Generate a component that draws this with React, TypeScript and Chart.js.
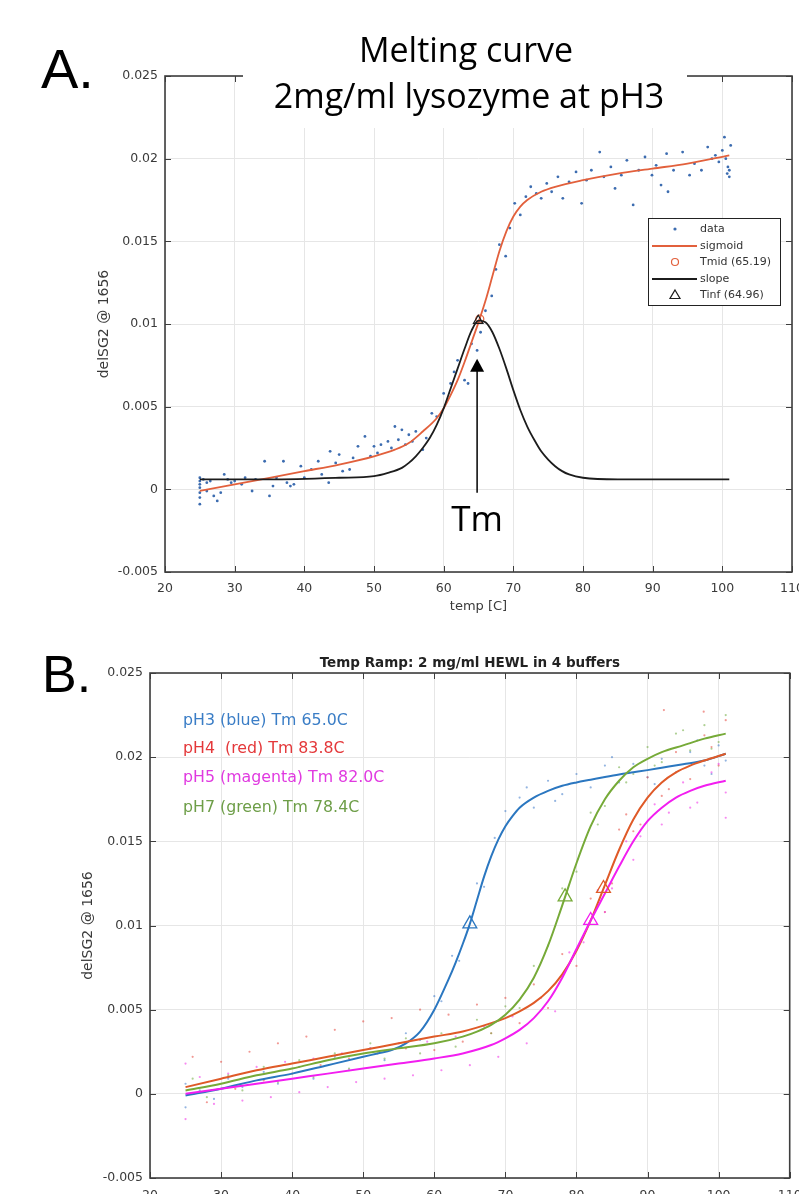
import React, { useEffect, useRef } from 'react';
import { Chart, registerables } from 'chart.js';

Chart.register(...registerables);

// ---------------- Panel A data ----------------
const aDataTemp = [
  25, 25, 25, 25, 25, 25, 25, 25.5, 26, 26, 26.5, 27, 27.5, 28, 28.5, 29, 29.5, 30, 31, 31.5,
  32.5, 33, 34.3, 35, 35.5, 36, 37, 37.5, 38, 38.5, 39.5, 40, 41, 42, 42.5, 43.5, 43.7, 44.5, 45, 45.5,
  46.5, 47, 47.7, 48.7, 49.5, 50, 50.5, 51, 52, 52.5, 53, 53.5, 54, 54.5, 55, 55.5, 56, 57, 57.5, 58.3,
  59, 60, 61, 61.5, 62, 63, 63.5, 64, 64.8, 65.3, 66, 66.9, 67.5, 68, 68.9, 69.5, 70.2, 71, 71.8, 72.5,
  73.3, 74, 74.8, 75.5, 76.4, 77.1, 78, 79, 79.8, 80.5, 81.2, 82.4, 83, 84, 84.6, 85.5, 86.3, 87.2, 88, 88.9,
  89.9, 90.5, 91.2, 92, 92.2, 93, 94.3, 95.3, 96, 97, 97.9, 98.5, 99, 99.5, 100, 100.3, 100.5, 100.8, 101, 101.2,
  101, 100.7,
];
const aDataSignal = [
  0.0007, 0.0005, 0.0003, 0.0001, -0.0002, -0.0005, -0.0009, 0.0006, 0.0004, -0.0001, 0.0005, -0.0004, -0.0007, -0.0002, 0.0009, 0.0006, 0.0004, 0.0005, 0.0003, 0.0007,
  -0.0001, 0.0006, 0.0017, -0.0004, 0.0002, 0.0007, 0.0017, 0.0004, 0.0002, 0.0003, 0.0014, 0.0007, 0.0012, 0.0017, 0.0009, 0.0004, 0.0023, 0.0016, 0.0021, 0.0011,
  0.0012, 0.0019, 0.0026, 0.0032, 0.0020, 0.0026, 0.0022, 0.0027, 0.0029, 0.0025, 0.0038, 0.0030, 0.0036, 0.0027, 0.0033, 0.0029, 0.0035, 0.0024, 0.0031, 0.0046,
  0.0044, 0.0058, 0.0064, 0.0071, 0.0078, 0.0066, 0.0064, 0.0088, 0.0084, 0.0095, 0.0108, 0.0117, 0.0133, 0.0148, 0.0141, 0.0158, 0.0173, 0.0166, 0.0177, 0.0183,
  0.0179, 0.0176, 0.0185, 0.0180, 0.0189, 0.0176, 0.0186, 0.0192, 0.0173, 0.0187, 0.0193, 0.0204, 0.0189, 0.0195, 0.0182, 0.0190, 0.0199, 0.0172, 0.0193, 0.0201,
  0.0190, 0.0196, 0.0184, 0.0203, 0.0180, 0.0193, 0.0204, 0.0190, 0.0197, 0.0193, 0.0207, 0.0200, 0.0202, 0.0198, 0.0205, 0.0213, 0.0200, 0.0195, 0.0189, 0.0208,
  0.0193, 0.0191,
];
const aSigmoidTemp = [25, 30, 35, 40, 45, 50, 53, 55, 57, 59, 60, 61, 62, 63, 64, 65, 66, 67, 68, 69, 70, 71, 72, 74, 76, 80, 85, 90, 95, 101];
const aSigmoidSignal = [
  -0.0001, 0.0003, 0.0007, 0.0011, 0.0015, 0.0020, 0.0024, 0.0028, 0.0035, 0.0043, 0.0049, 0.0057, 0.0066, 0.0077, 0.0089,
  0.0101, 0.0114, 0.0129, 0.0144, 0.0156, 0.0165, 0.0171, 0.0175, 0.0180, 0.0183, 0.0187, 0.0191, 0.0194, 0.0197, 0.0202,
];
const aSlopeTemp = [25, 35, 45, 50, 52, 54, 55, 56, 57, 58, 59, 60, 61, 62, 63, 64, 65, 66, 67, 68, 69, 70, 71, 72, 73, 74, 75, 76, 77, 78, 80, 85, 101];
const aSlopeSignal = [
  0.0006, 0.0006, 0.0007, 0.0008, 0.0010, 0.0013, 0.0016, 0.0020, 0.0025, 0.0031, 0.0039, 0.0049, 0.0061, 0.0073, 0.0085, 0.0096,
  0.0102, 0.0101, 0.0095, 0.0085, 0.0073, 0.0060, 0.0048, 0.0038, 0.0030, 0.0023, 0.0018, 0.0014, 0.0011, 0.0009, 0.0007, 0.0006, 0.0006,
];
const aTmid = { temp: 65.19, signal: 0.0103 };
const aTinf = { temp: 64.96, signal: 0.0102 };
const aLegendLabels = ['data', 'sigmoid', 'Tmid (65.19)', 'slope', 'Tinf (64.96)'];

// ---------------- Panel B data ----------------
const bBlueTemp = [25, 30, 35, 40, 45, 50, 52, 54, 56, 58, 60, 62, 63, 64, 65, 66, 67, 68, 69, 70, 71, 72, 74, 76, 78, 80, 82, 84, 86, 88, 90, 92, 95, 98, 101];
const bBlueCurve = [-0.0001, 0.0003, 0.0008, 0.0012, 0.0017, 0.0022, 0.0024, 0.0026, 0.0030, 0.0037, 0.0050, 0.0068, 0.0078, 0.0089, 0.0101, 0.0115, 0.0129, 0.0141, 0.0151, 0.0159, 0.0165, 0.0170, 0.0176, 0.0180, 0.0183, 0.0185, 0.01866, 0.01882, 0.01897, 0.0191, 0.01923, 0.01937, 0.01958, 0.0198, 0.0202];
const bRedTemp = [25, 30, 35, 40, 45, 50, 55, 60, 64, 68, 70, 72, 74, 76, 78, 80, 82, 84, 86, 88, 90, 92, 94, 96, 98, 101];
const bRedCurve = [0.0004, 0.0009, 0.0014, 0.0018, 0.0022, 0.0026, 0.0030, 0.0034, 0.0037, 0.0042, 0.0045, 0.0049, 0.0054, 0.0061, 0.0071, 0.0085, 0.0103, 0.0124, 0.0145, 0.0163, 0.0176, 0.0185, 0.0191, 0.0195, 0.0198, 0.0202];
const bMagentaTemp = [25, 30, 35, 40, 45, 50, 55, 60, 64, 68, 70, 72, 74, 76, 78, 80, 82, 84, 86, 88, 90, 92, 94, 96, 98, 101];
const bMagentaCurve = [0.0000, 0.0003, 0.0006, 0.0009, 0.0012, 0.0015, 0.0018, 0.0021, 0.0024, 0.0029, 0.0033, 0.0038, 0.0045, 0.0055, 0.0069, 0.0086, 0.0103, 0.0119, 0.0135, 0.0150, 0.0162, 0.0170, 0.0176, 0.0180, 0.0183, 0.0186];
const bGreenTemp = [25, 30, 35, 40, 45, 50, 55, 60, 64, 66, 68, 70, 72, 74, 76, 78, 80, 82, 84, 86, 88, 90, 92, 95, 98, 101];
const bGreenCurve = [0.0002, 0.0006, 0.0011, 0.0015, 0.0020, 0.0024, 0.0027, 0.0030, 0.0034, 0.0037, 0.0041, 0.0047, 0.0056, 0.0069, 0.0088, 0.0112, 0.0137, 0.0159, 0.0175, 0.0186, 0.0194, 0.0199, 0.0203, 0.0207, 0.0211, 0.0214];

const bBlueDotTemp = [25, 25, 27, 29, 31, 33, 36, 38, 41, 43, 46, 48, 51, 53, 56, 58, 60, 61, 62.5, 63.5, 66, 67, 68.5, 70, 72, 74, 76, 78, 80, 82, 84, 86, 88, 90, 92, 94, 96, 98, 100, 101, 73, 77, 85, 91, 97, 99];
const bBlueDotSignal = [0.0006, -0.0008, 0.0002, -0.0003, 0.0009, 0.0004, 0.0013, 0.0006, 0.0016, 0.0009, 0.0022, 0.0014, 0.0027, 0.0020, 0.0036, 0.0032, 0.0058, 0.0055, 0.0082, 0.0079, 0.0125, 0.0123, 0.0152, 0.0168, 0.0176, 0.0170, 0.0186, 0.0178, 0.0190, 0.0182, 0.0195, 0.0185, 0.0196, 0.0188, 0.0199, 0.0191, 0.0203, 0.0195, 0.0207, 0.0198, 0.0182, 0.0174, 0.0200, 0.0184, 0.0210, 0.0190];
const bRedDotTemp = [26, 28, 30, 32, 34, 36, 38, 40, 42, 44, 46, 48, 50, 52, 54, 56, 58, 60, 62, 64, 66, 68, 70, 72, 74, 76, 78, 80, 82, 84, 86, 88, 90, 92, 94, 96, 98, 100, 101, 92.3, 97.9, 85, 87, 89, 93, 99];
const bRedDotSignal = [0.0022, -0.0005, 0.0019, 0.0003, 0.0025, 0.0008, 0.0030, 0.0012, 0.0034, 0.0017, 0.0038, 0.0021, 0.0043, 0.0024, 0.0045, 0.0027, 0.0050, 0.0026, 0.0047, 0.0031, 0.0053, 0.0036, 0.0057, 0.0042, 0.0065, 0.0051, 0.0083, 0.0076, 0.0116, 0.0108, 0.0157, 0.0156, 0.0188, 0.0177, 0.0203, 0.0187, 0.0213, 0.0195, 0.0222, 0.0228, 0.0227, 0.0125, 0.0166, 0.0160, 0.0181, 0.0206];
const bMagentaDotTemp = [25, 25, 27, 29, 31, 33, 35, 37, 39, 41, 43, 45, 47, 49, 51, 53, 55, 57, 59, 61, 63, 65, 67, 69, 71, 73, 75, 77, 79, 81, 83, 85, 87, 89, 91, 93, 95, 97, 99, 101, 101, 84, 88, 92, 96, 100];
const bMagentaDotSignal = [0.0018, -0.0015, 0.0010, -0.0006, 0.0012, -0.0004, 0.0016, -0.0002, 0.0019, 0.0001, 0.0021, 0.0004, 0.0024, 0.0007, 0.0027, 0.0009, 0.0030, 0.0011, 0.0031, 0.0014, 0.0034, 0.0017, 0.0040, 0.0022, 0.0046, 0.0030, 0.0057, 0.0049, 0.0084, 0.0090, 0.0121, 0.0122, 0.0150, 0.0153, 0.0172, 0.0167, 0.0185, 0.0173, 0.0191, 0.0179, 0.0164, 0.0108, 0.0139, 0.0160, 0.0170, 0.0196];
const bGreenDotTemp = [26, 28, 31, 33, 36, 38, 41, 43, 46, 48, 51, 53, 56, 58, 61, 63, 66, 68, 70, 72, 74, 76, 78, 80, 82, 84, 86, 88, 90, 92, 94, 96, 98, 100, 101, 83, 87, 91, 95, 99];
const bGreenDotSignal = [0.0009, -0.0002, 0.0011, 0.0002, 0.0016, 0.0007, 0.0020, 0.0010, 0.0024, 0.0015, 0.0030, 0.0021, 0.0033, 0.0024, 0.0036, 0.0028, 0.0044, 0.0036, 0.0052, 0.0051, 0.0076, 0.0088, 0.0122, 0.0132, 0.0167, 0.0171, 0.0194, 0.0190, 0.0206, 0.0197, 0.0214, 0.0204, 0.0219, 0.0209, 0.0225, 0.0160, 0.0185, 0.0195, 0.0216, 0.0205];

const bTmTemp = [65.0, 83.8, 82.0, 78.4];
const bTmSignal = [0.0101, 0.0122, 0.0103, 0.0117];
const bLabels = ['pH3 (blue) Tm 65.0C', 'pH4  (red) Tm 83.8C', 'pH5 (magenta) Tm 82.0C', 'pH7 (green) Tm 78.4C'];

const xTicksMin = 20;
const xTicksMax = 110;
const yTicksMin = -0.005;
const yTicksMax = 0.025;

// ---------------- styling ----------------
const gridColor = '#e6e6e6';
const frameColor = '#3e3e3e';
const tickColor = '#3a3a3a';
const tickFont = { family: 'DejaVu Sans', size: 12.5 };

const aBlue = '#3c6cb0';
const aRed = '#e2603c';
const aBlack = '#1c1c1c';

const bColors = ['#2b77c0', '#df5a28', '#f21ef0', '#76aa38'];
const bDotColors = ['rgba(60,120,200,0.55)', 'rgba(230,70,60,0.55)', 'rgba(240,40,230,0.55)', 'rgba(110,170,60,0.55)'];
const bTextColors = ['#3a7dc6', '#e4383a', '#e03ae0', '#6e9e48'];

const pts = (xs: number[], ys: number[]) => {
  const n = Math.min(xs.length, ys.length);
  const out: { x: number; y: number }[] = [];
  for (let i = 0; i < n; i++) out.push({ x: xs[i], y: ys[i] });
  return out;
};

function makeScales(yWidth: number, xHeight: number, xPad: number) {
  return {
    x: {
      type: 'linear',
      min: xTicksMin,
      max: xTicksMax,
      ticks: {
        stepSize: 10,
        color: tickColor,
        font: tickFont,
        padding: xPad,
        maxRotation: 0,
        autoSkip: false,
        callback: (v: number) => String(v),
      },
      grid: { color: gridColor, drawTicks: false, lineWidth: 1 },
      border: { display: false },
      afterFit: (s: any) => {
        s.height = xHeight;
        s.paddingLeft = 0;
        s.paddingRight = 0;
      },
    },
    y: {
      type: 'linear',
      min: yTicksMin,
      max: yTicksMax,
      ticks: {
        stepSize: 0.005,
        color: tickColor,
        font: tickFont,
        padding: 7,
        autoSkip: false,
        callback: (v: number) => String(Math.round(v * 1000) / 1000),
      },
      grid: { color: gridColor, drawTicks: false, lineWidth: 1 },
      border: { display: false },
      afterFit: (s: any) => {
        s.width = yWidth;
        s.paddingTop = 0;
        s.paddingBottom = 0;
      },
    },
  };
}

function drawFrame(chart: any, tickLen: number) {
  const { ctx, chartArea: a, scales } = chart;
  const xs = scales.x;
  const ys = scales.y;
  ctx.save();
  ctx.strokeStyle = frameColor;
  ctx.lineWidth = 1;
  ctx.beginPath();
  xs.ticks.forEach((t: any) => {
    const px = Math.round(xs.getPixelForValue(t.value)) + 0.5;
    ctx.moveTo(px, a.bottom);
    ctx.lineTo(px, a.bottom - tickLen);
    ctx.moveTo(px, a.top);
    ctx.lineTo(px, a.top + tickLen);
  });
  ys.ticks.forEach((t: any) => {
    const py = Math.round(ys.getPixelForValue(t.value)) + 0.5;
    ctx.moveTo(a.left, py);
    ctx.lineTo(a.left + tickLen, py);
    ctx.moveTo(a.right, py);
    ctx.lineTo(a.right - tickLen, py);
  });
  ctx.stroke();
  ctx.lineWidth = 1.6;
  ctx.strokeRect(a.left, a.top, a.right - a.left, a.bottom - a.top);
  ctx.restore();
}

function drawRotated(ctx: CanvasRenderingContext2D, text: string, x: number, y: number, font: string, color: string) {
  ctx.save();
  ctx.translate(x, y);
  ctx.rotate(-Math.PI / 2);
  ctx.font = font;
  ctx.fillStyle = color;
  ctx.textAlign = 'center';
  ctx.textBaseline = 'middle';
  ctx.fillText(text, 0, 0);
  ctx.restore();
}

const panelAPlugin = {
  id: 'panelADecor',
  afterDraw(chart: any) {
    const { ctx, chartArea: a, scales } = chart;
    drawFrame(chart, 6);
    ctx.save();
    // white title box laid over the plot
    ctx.fillStyle = '#ffffff';
    ctx.fillRect(243, 0, 444, 128);
    ctx.fillStyle = '#000000';
    ctx.textAlign = 'center';
    ctx.textBaseline = 'alphabetic';
    ctx.font = '34px "Open Sans"';
    ctx.fillText('Melting curve', 466, 62);
    ctx.fillText('2mg/ml lysozyme at pH3', 469, 108);
    // panel letter
    ctx.textAlign = 'left';
    ctx.font = '56px "Liberation Sans"';
    ctx.fillText('A.', 41, 88);
    // axis titles
    drawRotated(ctx, 'delSG2 @ 1656', 104, (a.top + a.bottom) / 2, '14px "DejaVu Sans"', tickColor);
    ctx.font = '13px "DejaVu Sans"';
    ctx.fillStyle = tickColor;
    ctx.textAlign = 'center';
    ctx.textBaseline = 'middle';
    ctx.fillText('temp [C]', (a.left + a.right) / 2, 607);

    // legend box
    const lx = 648, ly = 218, lw = 132, lh = 87;
    ctx.fillStyle = '#ffffff';
    ctx.fillRect(lx, ly, lw, lh);
    ctx.strokeStyle = '#222';
    ctx.lineWidth = 1;
    ctx.strokeRect(lx + 0.5, ly + 0.5, lw, lh);
    const rows = [229, 246, 262, 279, 295];
    const sx = 675;
    ctx.fillStyle = aBlue;
    ctx.beginPath();
    ctx.arc(sx, rows[0], 1.6, 0, Math.PI * 2);
    ctx.fill();
    ctx.strokeStyle = aRed;
    ctx.lineWidth = 1.8;
    ctx.beginPath();
    ctx.moveTo(652, rows[1]);
    ctx.lineTo(697, rows[1]);
    ctx.stroke();
    ctx.lineWidth = 1.2;
    ctx.beginPath();
    ctx.arc(sx, rows[2], 3.5, 0, Math.PI * 2);
    ctx.stroke();
    ctx.strokeStyle = aBlack;
    ctx.lineWidth = 1.8;
    ctx.beginPath();
    ctx.moveTo(652, rows[3]);
    ctx.lineTo(697, rows[3]);
    ctx.stroke();
    ctx.lineWidth = 1.2;
    ctx.beginPath();
    ctx.moveTo(sx, rows[4] - 5);
    ctx.lineTo(sx + 5, rows[4] + 3.5);
    ctx.lineTo(sx - 5, rows[4] + 3.5);
    ctx.closePath();
    ctx.stroke();
    ctx.font = '11px "DejaVu Sans"';
    ctx.fillStyle = '#333';
    ctx.textAlign = 'left';
    ctx.textBaseline = 'middle';
    aLegendLabels.forEach((t, i) => ctx.fillText(t, 700, rows[i]));

    // Tm arrow annotation
    const ax = scales.x.getPixelForValue(64.8);
    const yTip = scales.y.getPixelForValue(0.0079);
    const yTail = scales.y.getPixelForValue(-0.0002);
    ctx.strokeStyle = '#000';
    ctx.lineWidth = 1.5;
    ctx.beginPath();
    ctx.moveTo(ax, yTail);
    ctx.lineTo(ax, yTip + 12);
    ctx.stroke();
    ctx.fillStyle = '#000';
    ctx.beginPath();
    ctx.moveTo(ax, yTip);
    ctx.lineTo(ax + 7, yTip + 13);
    ctx.lineTo(ax - 7, yTip + 13);
    ctx.closePath();
    ctx.fill();
    ctx.font = '35px "Open Sans"';
    ctx.textAlign = 'center';
    ctx.textBaseline = 'alphabetic';
    ctx.fillText('Tm', ax, 531);
    ctx.restore();
  },
};

const panelBPlugin = {
  id: 'panelBDecor',
  afterDraw(chart: any) {
    const { ctx, chartArea: a } = chart;
    drawFrame(chart, 6);
    ctx.save();
    ctx.fillStyle = '#000';
    ctx.textAlign = 'left';
    ctx.textBaseline = 'alphabetic';
    ctx.font = '52px "Liberation Sans"';
    ctx.fillText('B.', 42, 72);
    ctx.font = 'bold 13.5px "DejaVu Sans"';
    ctx.fillStyle = '#222';
    ctx.textAlign = 'center';
    ctx.textBaseline = 'middle';
    ctx.fillText('Temp Ramp: 2 mg/ml HEWL in 4 buffers', (a.left + a.right) / 2, 43);
    drawRotated(ctx, 'delSG2 @ 1656', 88, (a.top + a.bottom) / 2, '14px "DejaVu Sans"', tickColor);
    ctx.font = '15.8px "DejaVu Sans"';
    ctx.textAlign = 'left';
    const ys = [101, 129, 158, 188];
    bLabels.forEach((t, i) => {
      ctx.fillStyle = bTextColors[i];
      ctx.fillText(t, 183, ys[i]);
    });
    ctx.restore();
  },
};

function configA(): any {
  return {
    type: 'scatter',
    data: {
      datasets: [
        {
          label: 'data',
          data: pts(aDataTemp, aDataSignal),
          backgroundColor: aBlue,
          borderColor: aBlue,
          pointRadius: 1.4,
          pointBorderWidth: 0,
          showLine: false,
          order: 10,
        },
        {
          label: 'sigmoid',
          data: pts(aSigmoidTemp, aSigmoidSignal),
          borderColor: aRed,
          borderWidth: 1.8,
          pointRadius: 0,
          showLine: true,
          fill: false,
          cubicInterpolationMode: 'monotone',
          order: 8,
        },
        {
          label: 'Tmid',
          data: [{ x: aTmid.temp, y: aTmid.signal }],
          borderColor: aRed,
          backgroundColor: 'rgba(0,0,0,0)',
          pointStyle: 'circle',
          pointRadius: 4,
          pointBorderWidth: 1.2,
          showLine: false,
          order: 6,
        },
        {
          label: 'slope',
          data: pts(aSlopeTemp, aSlopeSignal),
          borderColor: aBlack,
          borderWidth: 1.8,
          pointRadius: 0,
          showLine: true,
          fill: false,
          cubicInterpolationMode: 'monotone',
          order: 4,
        },
        {
          label: 'Tinf',
          data: [{ x: aTinf.temp, y: aTinf.signal }],
          borderColor: aBlack,
          backgroundColor: 'rgba(0,0,0,0)',
          pointStyle: 'triangle',
          pointRadius: 5.5,
          pointBorderWidth: 1.2,
          showLine: false,
          order: 2,
        },
      ],
    },
    options: {
      responsive: false,
      animation: false,
      devicePixelRatio: 1,
      layout: { padding: { left: 0, top: 76, right: 7, bottom: 0 } },
      plugins: { legend: { display: false }, tooltip: { enabled: false }, title: { display: false } },
      scales: makeScales(165, 48, 9),
    },
    plugins: [panelAPlugin],
  };
}

function configB(): any {
  const curveT = [bBlueTemp, bRedTemp, bMagentaTemp, bGreenTemp];
  const curves = [bBlueCurve, bRedCurve, bMagentaCurve, bGreenCurve];
  const dotT = [bBlueDotTemp, bRedDotTemp, bMagentaDotTemp, bGreenDotTemp];
  const dotS = [bBlueDotSignal, bRedDotSignal, bMagentaDotSignal, bGreenDotSignal];
  const names = ['pH3', 'pH4', 'pH5', 'pH7'];
  const datasets: any[] = [];
  names.forEach((n, i) => {
    datasets.push({
      label: n + ' data',
      data: pts(dotT[i], dotS[i]),
      backgroundColor: bDotColors[i],
      borderColor: bDotColors[i],
      pointRadius: 1.1,
      pointBorderWidth: 0,
      showLine: false,
      order: 20 - i,
    });
  });
  names.forEach((n, i) => {
    datasets.push({
      label: n + ' fit',
      data: pts(curveT[i], curves[i]),
      borderColor: bColors[i],
      borderWidth: 2,
      pointRadius: 0,
      showLine: true,
      fill: false,
      cubicInterpolationMode: 'monotone',
      order: 10 - i,
    });
  });
  names.forEach((n, i) => {
    datasets.push({
      label: n + ' Tm',
      data: [{ x: bTmTemp[i], y: bTmSignal[i] }],
      borderColor: bColors[i],
      backgroundColor: 'rgba(0,0,0,0)',
      pointStyle: 'triangle',
      pointRadius: 8,
      pointBorderWidth: 1.3,
      showLine: false,
      order: 4 - i,
    });
  });
  return {
    type: 'scatter',
    data: { datasets },
    options: {
      responsive: false,
      animation: false,
      devicePixelRatio: 1,
      layout: { padding: { left: 0, top: 53, right: 9, bottom: 0 } },
      plugins: { legend: { display: false }, tooltip: { enabled: false }, title: { display: false } },
      scales: makeScales(150, 16, 10),
    },
    plugins: [panelBPlugin],
  };
}

export default function App() {
  const refA = useRef<HTMLCanvasElement>(null);
  const refB = useRef<HTMLCanvasElement>(null);
  useEffect(() => {
    Chart.defaults.font.family = 'DejaVu Sans';
    const ca = new Chart(refA.current as HTMLCanvasElement, configA());
    const cb = new Chart(refB.current as HTMLCanvasElement, configB());
    return () => {
      ca.destroy();
      cb.destroy();
    };
  }, []);
  return (
    <div>
      <canvas
        ref={refA}
        width={799}
        height={620}
        style={{ position: 'absolute', left: 0, top: 0, width: 799, height: 620, display: 'block' }}
      />
      <canvas
        ref={refB}
        width={799}
        height={574}
        style={{ position: 'absolute', left: 0, top: 620, width: 799, height: 574, display: 'block' }}
      />
    </div>
  );
}
